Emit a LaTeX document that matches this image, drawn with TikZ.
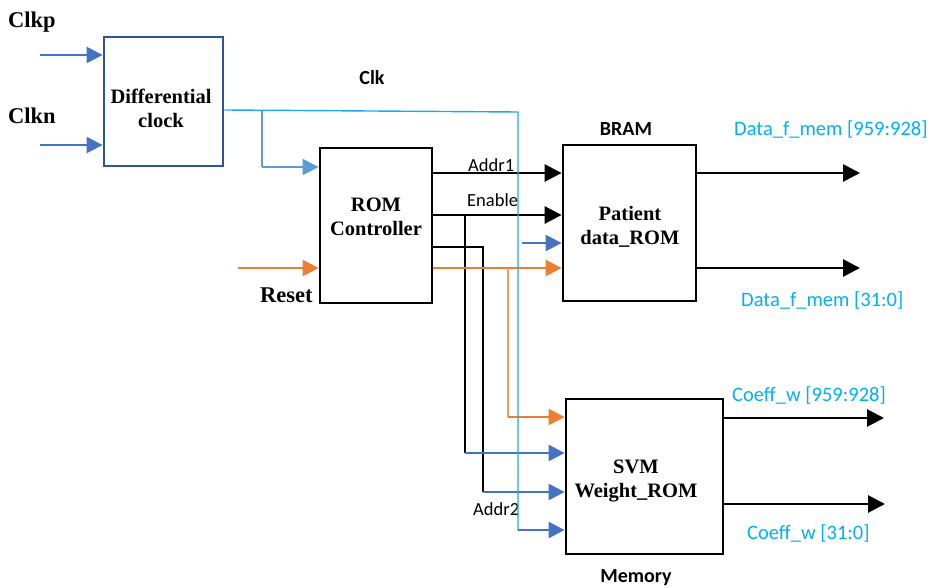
\documentclass[tikz,border=0pt]{standalone}
\usepackage{fontspec}
\setmainfont{Liberation Serif}
\newfontfamily\calfont{Carlito}
\usetikzlibrary{arrows.meta}
\definecolor{dkblue}{HTML}{2F5597}
\definecolor{arblue}{HTML}{4472C4}
\definecolor{ltblue}{HTML}{5B9BD5}
\definecolor{clkblue}{HTML}{1AA7EC}
\definecolor{orng}{HTML}{ED7D31}
\definecolor{lorng}{HTML}{F19A5C}
\definecolor{cyantext}{HTML}{00B0F0}
\tikzset{
  blk/.style={draw=black, line width=2.8pt, inner sep=0pt},
  blktext/.style={align=center, inner sep=0pt, font=\fontsize{20.5}{24}\selectfont\bfseries},
  sigblk/.style={black, line width=2.8pt, -{Triangle[length=17pt,width=17pt]}},
  sigblue/.style={arblue, line width=2.5pt, -{Triangle[length=16pt,width=16pt]}},
  sigorng/.style={orng, line width=2.5pt, -{Triangle[length=16pt,width=16pt]}},
  wireblk/.style={black, line width=2.8pt},
  sanslbl/.style={font=\calfont\fontsize{18.5}{20}\selectfont, inner sep=0pt, anchor=base west},
  outlbl/.style={font=\calfont\fontsize{20.5}{22}\selectfont, text=cyantext, inner sep=0pt, anchor=base west},
  boldsans/.style={font=\calfont\fontsize{20}{22}\selectfont\bfseries, inner sep=0pt, anchor=base},
  serlbl/.style={font=\fontsize{22.5}{24}\selectfont\bfseries, inner sep=0pt, anchor=base west},
}
\begin{document}
\begin{tikzpicture}[x=1pt, y=-1pt]
\useasboundingbox (0,0) rectangle (935,588);
% blocks
\node[blk, draw=dkblue, minimum width=119pt, minimum height=129pt] (dc) at (163.5,101.5) {};
\node[blk, minimum width=112pt, minimum height=155pt] (rc) at (376,225.5) {};
\node[blk, minimum width=133pt, minimum height=156pt] (pr) at (629.5,223) {};
\node[blk, minimum width=157pt, minimum height=155pt] (sv) at (644.5,476.5) {};
\node[blktext] (tdc) at (161,108) {Differential\\clock};
\node[blktext] (trc) at (376,216.5) {ROM\\Controller};
\node[blktext] (tpr) at (630,226.5) {Patient\\data\_ROM};
\node[blktext] (tsv) at (636,480.5) {SVM\\Weight\_ROM};
% labels
\node[serlbl] (lclkp) at (8,28) {Clkp};
\node[serlbl] (lclkn) at (8,124) {Clkn};
\node[serlbl] (lreset) at (260,303) {Reset};
\node[boldsans] (lclk) at (372,85) {Clk};
\node[boldsans] (lbram) at (626,136) {BRAM};
\node[boldsans] (lmem) at (636,582) {Memory};
\node[sanslbl] (laddr1) at (468,172) {Addr1};
\node[sanslbl] (lenable) at (467,207) {Enable};
\node[sanslbl] (laddr2) at (473,515) {Addr2};
\node[outlbl] (ld1) at (734,136) {Data\_f\_mem [959:928]};
\node[outlbl] (ld2) at (741,306) {Data\_f\_mem [31:0]};
\node[outlbl] (lc1) at (732,401) {Coeff\_w [959:928]};
\node[outlbl] (lc2) at (747,539) {Coeff\_w [31:0]};
% free ends
\coordinate (clkpin) at (40,55);
\coordinate (clknin) at (40,145);
\coordinate (rstin) at (238,268);
\coordinate (d1out) at (860,173);
\coordinate (d2out) at (860,268);
\coordinate (c1out) at (884,418);
\coordinate (c2out) at (885,504);
% clock inputs
\draw[sigblue] (clkpin) -- (clkpin -| dc.west);
\draw[sigblue] (clknin) -- (clknin -| dc.west);
% reset
\draw[sigorng] (rstin) -- (rstin -| rc.west);
% ROM controller outputs
\draw[sigblk] (rc.east |- 0,173) -- (pr.west |- 0,173);
\draw[sigblk] (rc.east |- 0,215) -- (pr.west |- 0,215);
\draw[wireblk] (465,215) -- (465,453);
\draw[wireblk] (rc.east |- 0,247) -- (483,247) -- (483,492);
\draw[sigblue] (465,453) -- (sv.west |- 0,453);
\draw[sigblue] (483,492) -- (sv.west |- 0,492);
\draw[sigorng] (rc.east |- 0,268) -- (pr.west |- 0,268);
\draw[lorng, line width=1.6pt] (508,268) -- (508,417);
\draw[sigorng] (508,417) -- (sv.west |- 0,417);
\draw[sigblue] (522,243) -- (pr.west |- 0,243);
% clock distribution
\draw[ltblue, line width=1.6pt] (262,110) -- (262,167);
\draw[ltblue, line width=2pt, -{Triangle[length=16pt,width=16pt]}] (262,167) -- (rc.west |- 0,167);
\draw[clkblue, line width=1.4pt] (dc.east |- 0,110) -- (518,112) -- (518,530);
\draw[sigblue] (518,530) -- (sv.west |- 0,530);
% outputs
\draw[sigblk] (pr.east |- 0,173) -- (d1out);
\draw[sigblk] (pr.east |- 0,268) -- (d2out);
\draw[sigblk] (sv.east |- 0,418) -- (c1out);
\draw[sigblk] (sv.east |- 0,504) -- (c2out);
\end{tikzpicture}
\end{document}
